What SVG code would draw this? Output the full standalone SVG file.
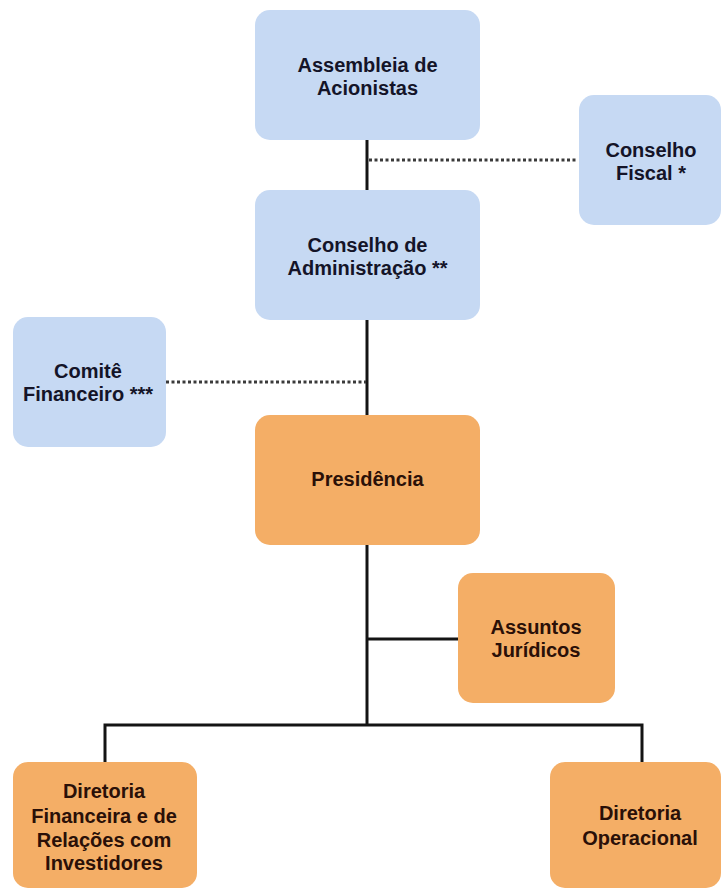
<svg xmlns="http://www.w3.org/2000/svg" width="722" height="889" viewBox="0 0 722 889">
<style>
.blue{fill:#c6d9f3}
.orange{fill:#f4ae66}
text{font-family:"Liberation Sans",Arial,sans-serif;font-weight:bold;font-size:20px;text-anchor:middle}
.tb{fill:#141428}
.to{fill:#2a1008}
.solid{stroke:#141414;stroke-width:3;fill:none}
.dot{stroke:#3a3a3a;stroke-width:3;stroke-dasharray:3 2.5;fill:none}
</style>
<rect width="722" height="889" fill="#ffffff"/>
<g id="connectors">
<line class="solid" x1="367" y1="140" x2="367" y2="190"/>
<line class="solid" x1="367" y1="320" x2="367" y2="415"/>
<line class="solid" x1="367" y1="545" x2="367" y2="725"/>
<line class="solid" x1="367" y1="639" x2="458" y2="639"/>
<polyline class="solid" points="105,762 105,725 642,725 642,762"/>
<line class="dot" x1="369" y1="160" x2="578" y2="160"/>
<line class="dot" x1="166" y1="382" x2="366" y2="382"/>
</g>
<g id="assembleia">
<rect class="blue" x="255" y="10" width="225" height="130" rx="15"/>
<text class="tb" x="367.5" y="72">Assembleia de</text>
<text class="tb" x="367.5" y="95">Acionistas</text>
</g>
<g id="conselho-fiscal">
<rect class="blue" x="579" y="95" width="142" height="130" rx="15"/>
<text class="tb" x="651" y="157">Conselho</text>
<text class="tb" x="651" y="180">Fiscal *</text>
</g>
<g id="conselho-administracao">
<rect class="blue" x="255" y="190" width="225" height="130" rx="15"/>
<text class="tb" x="367.5" y="252">Conselho de</text>
<text class="tb" x="367.5" y="275">Administração **</text>
</g>
<g id="comite-financeiro">
<rect class="blue" x="13" y="317" width="153" height="130" rx="15"/>
<text class="tb" x="88" y="378">Comitê</text>
<text class="tb" x="88" y="401">Financeiro ***</text>
</g>
<g id="presidencia">
<rect class="orange" x="255" y="415" width="225" height="130" rx="15"/>
<text class="to" x="367.5" y="486">Presidência</text>
</g>
<g id="assuntos-juridicos">
<rect class="orange" x="458" y="573" width="157" height="130" rx="15"/>
<text class="to" x="536" y="634">Assuntos</text>
<text class="to" x="536" y="657">Jurídicos</text>
</g>
<g id="diretoria-financeira">
<rect class="orange" x="13" y="762" width="184" height="126" rx="15"/>
<text class="to" x="104" y="798">Diretoria</text>
<text class="to" x="104" y="823">Financeira e de</text>
<text class="to" x="104" y="847">Relações com</text>
<text class="to" x="104" y="870">Investidores</text>
</g>
<g id="diretoria-operacional">
<rect class="orange" x="550" y="762" width="171" height="126" rx="15"/>
<text class="to" x="640" y="820">Diretoria</text>
<text class="to" x="640" y="845">Operacional</text>
</g>
</svg>
